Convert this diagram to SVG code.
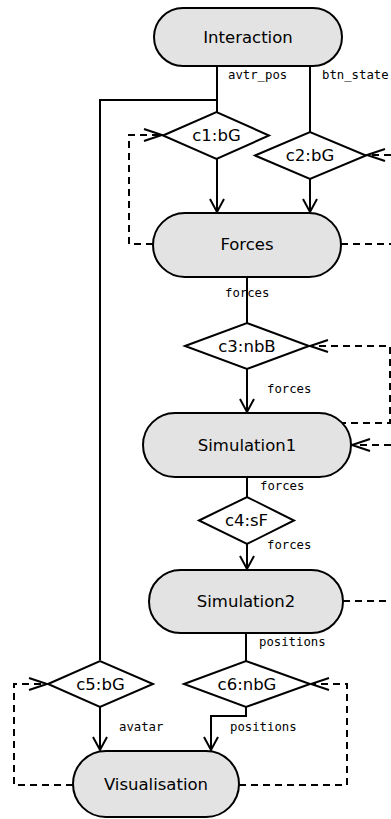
<svg xmlns="http://www.w3.org/2000/svg" width="391" height="819" viewBox="0 0 391 819">
<style>
.node{fill:#e3e3e3;stroke:#000;stroke-width:2}
.dia{fill:#fff;stroke:#000;stroke-width:2}
.t{font-family:"DejaVu Sans",sans-serif;font-size:16.5px;text-anchor:middle;dominant-baseline:central;fill:#000}
.l{font-family:"DejaVu Sans Mono",monospace;font-size:12.3px;fill:#000;dominant-baseline:central}
.s{fill:none;stroke:#000;stroke-width:2}
.d{fill:none;stroke:#000;stroke-width:2;stroke-dasharray:7,5}
</style>
<defs>
<marker id="a" markerUnits="userSpaceOnUse" markerWidth="16" markerHeight="16" refX="14" refY="7" orient="auto" overflow="visible">
<path d="M1,0 L14,7 L1,14" fill="none" stroke="#000" stroke-width="2"/>
</marker>
<marker id="ad" markerUnits="userSpaceOnUse" markerWidth="20" markerHeight="16" refX="18" refY="6" orient="auto" overflow="visible">
<path d="M0,0 L18,6 L0,12" fill="none" stroke="#000" stroke-width="2"/>
</marker>
</defs>
<g id="connectors">
<path class="s" d="M217,66 V112"/>
<path class="s" d="M217,100 H100 V660"/>
<path class="s" d="M310,66 V132"/>
<path class="s" d="M217,159 V212" marker-end="url(#a)"/>
<path class="s" d="M310,179 V212" marker-end="url(#a)"/>
<path class="d" d="M153,244 H129 V135 H162" marker-end="url(#ad)"/>
<path class="d" d="M341,244 H391"/>
<path class="d" d="M391,155 H367" marker-end="url(#ad)"/>
<path class="s" d="M247,277 V323"/>
<path class="s" d="M247,369 V412" marker-end="url(#a)"/>
<path class="d" d="M339,423 H390 V346 H310" marker-end="url(#ad)"/>
<path class="d" d="M391,445 H352" marker-end="url(#ad)"/>
<path class="s" d="M247,477 V497"/>
<path class="s" d="M247,544 V569" marker-end="url(#a)"/>
<path class="d" d="M343,601 H391"/>
<path class="s" d="M246,633 V661"/>
<path class="s" d="M246,707 V716 H211 V750" marker-end="url(#a)"/>
<path class="s" d="M100,707 V750" marker-end="url(#a)"/>
<path class="d" d="M73,785 H14 V684 H47" marker-end="url(#ad)"/>
<path class="d" d="M239,785 H347 V684 H311" marker-end="url(#ad)"/>
<text class="l" x="228" y="75">avtr_pos</text>
<text class="l" x="322" y="75">btn_state</text>
<text class="l" x="225" y="293">forces</text>
<text class="l" x="267" y="389">forces</text>
<text class="l" x="260" y="486">forces</text>
<text class="l" x="267" y="545">forces</text>
<text class="l" x="259" y="642">positions</text>
<text class="l" x="119" y="727">avatar</text>
<text class="l" x="230" y="727">positions</text>
</g>
<g id="Interaction"><rect class="node" x="154" y="8" width="188" height="58" rx="29"/><text class="t" x="248" y="37">Interaction</text></g>
<g id="c1"><polygon class="dia" points="163,135.5 216.5,112 269,135.5 216.5,159"/><text class="t" x="216.5" y="135.5">c1:bG</text></g>
<g id="c2"><polygon class="dia" points="255,155.5 310,132 366,155.5 310,179"/><text class="t" x="310" y="155.5">c2:bG</text></g>
<g id="Forces"><rect class="node" x="153" y="213" width="188" height="64" rx="32"/><text class="t" x="247" y="244">Forces</text></g>
<g id="c3"><polygon class="dia" points="185,346 247,323 309,346 247,369"/><text class="t" x="247" y="346">c3:nbB</text></g>
<g id="Simulation1"><rect class="node" x="143" y="413" width="208" height="64" rx="32"/><text class="t" x="247" y="445">Simulation1</text></g>
<g id="c4"><polygon class="dia" points="199,520.5 247,497 294,520.5 247,544"/><text class="t" x="246.5" y="520.5">c4:sF</text></g>
<g id="Simulation2"><rect class="node" x="149" y="570" width="194" height="63" rx="31.5"/><text class="t" x="246" y="601">Simulation2</text></g>
<g id="c5"><polygon class="dia" points="48,684 100,661 153,684 100,707"/><text class="t" x="100.5" y="684">c5:bG</text></g>
<g id="c6"><polygon class="dia" points="184,684 246,661 310,684 246,707"/><text class="t" x="247" y="684">c6:nbG</text></g>
<g id="Visualisation"><rect class="node" x="73" y="751" width="166" height="66" rx="33"/><text class="t" x="156" y="784">Visualisation</text></g>
</svg>
